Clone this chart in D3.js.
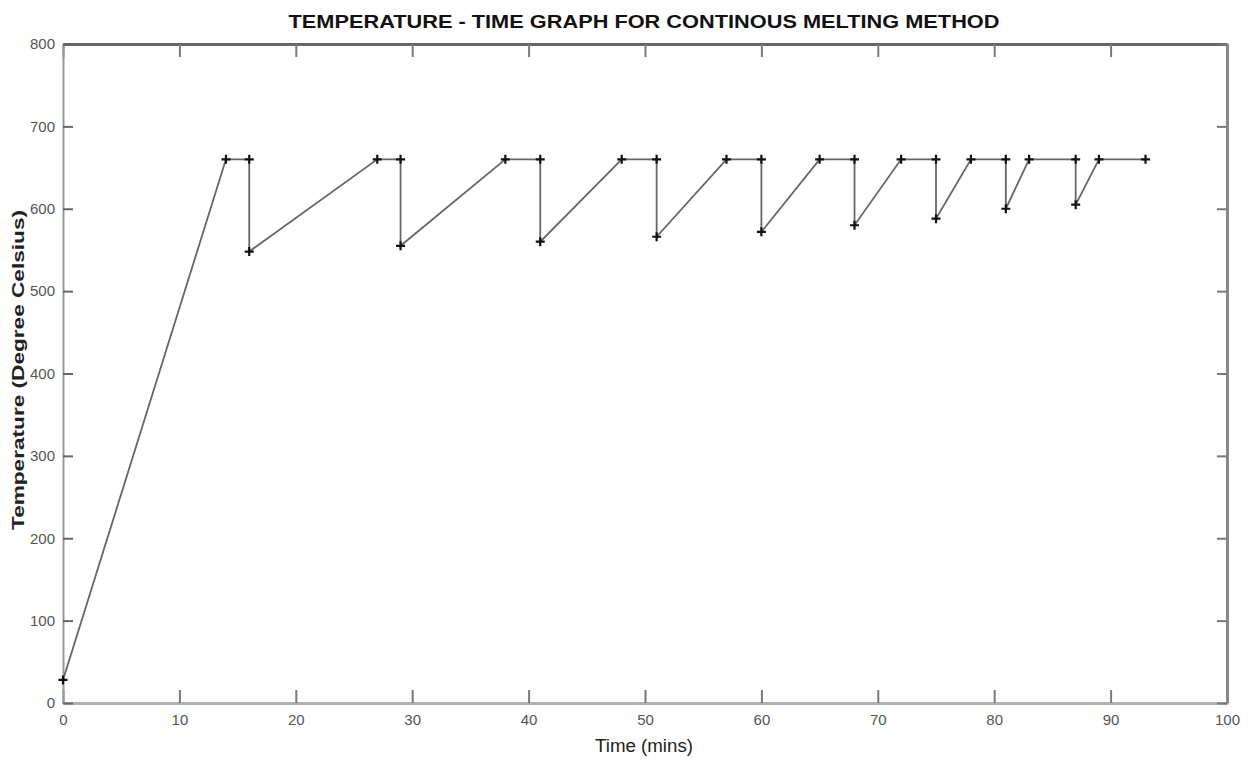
<!DOCTYPE html>
<html>
<head>
<meta charset="utf-8">
<script src="https://cdn.jsdelivr.net/npm/d3@7"></script>
<style>
  body { margin: 0; background: #fff; }
  svg text { font-family: "Liberation Sans Narrow", "Arial Narrow", "Liberation Sans", sans-serif; }
</style>
</head>
<body>
<div id="chart"></div>
<script>
// time (mins) and temperature readings of the melt
const times = [0, 14, 16, 16, 27, 29, 29, 38, 41, 41, 48, 51, 51, 57, 60, 60, 65, 68, 68, 72, 75, 75, 78, 81, 81, 83, 87, 87, 89, 93];
const temps = [28, 660, 660, 548, 660, 660, 555, 660, 660, 560, 660, 660, 566, 660, 660, 572, 660, 660, 580, 660, 660, 588, 660, 660, 600, 660, 660, 605, 660, 660];
const xTicks = [0, 10, 20, 30, 40, 50, 60, 70, 80, 90, 100];
const yTicks = [0, 100, 200, 300, 400, 500, 600, 700, 800];

const width = 1249, height = 760;
const margin = { top: 44, right: 22, bottom: 57, left: 63 };

const svg = d3.select('#chart').append('svg')
  .attr('width', width)
  .attr('height', height);

const x = d3.scaleLinear().domain([0, 100]).range([margin.left, width - margin.right]);
const y = d3.scaleLinear().domain([0, 800]).range([height - margin.bottom, margin.top]);

const axisColor = '#7a7a7a';

// bottom axis, ticks pointing inwards
svg.append('g')
  .attr('transform', `translate(0,${y(0)})`)
  .call(d3.axisBottom(x).tickValues(xTicks).tickSize(-13).tickPadding(20).tickSizeOuter(0))
  .call(g => g.select('.domain').attr('stroke', '#b0b0b0').attr('stroke-width', 3))
  .call(g => g.selectAll('.tick line').attr('stroke', axisColor).attr('stroke-width', 2))
  .call(g => g.selectAll('text').attr('font-size', 15).attr('fill', '#555').attr('dy', '0.1em'));

// top frame line + ticks
svg.append('g')
  .attr('transform', `translate(0,${y(800)})`)
  .call(d3.axisTop(x).tickValues(xTicks).tickSize(-13).tickFormat('').tickSizeOuter(0))
  .call(g => g.select('.domain').attr('stroke', '#666').attr('stroke-width', 3))
  .call(g => g.selectAll('.tick line').attr('stroke', axisColor).attr('stroke-width', 2));

// left axis
svg.append('g')
  .attr('transform', `translate(${x(0)},0)`)
  .call(d3.axisLeft(y).tickValues(yTicks).tickSize(-10).tickPadding(8).tickSizeOuter(0))
  .call(g => g.select('.domain').attr('stroke', '#999').attr('stroke-width', 2))
  .call(g => g.selectAll('.tick line').attr('stroke', '#666').attr('stroke-width', 2))
  .call(g => g.selectAll('text').attr('font-size', 15).attr('fill', '#555'));

// right frame line + ticks
svg.append('g')
  .attr('transform', `translate(${x(100)},0)`)
  .call(d3.axisRight(y).tickValues(yTicks).tickSize(-10).tickFormat('').tickSizeOuter(0))
  .call(g => g.select('.domain').attr('stroke', '#888').attr('stroke-width', 3))
  .call(g => g.selectAll('.tick line').attr('stroke', '#777').attr('stroke-width', 2));

const pts = times.map((t, i) => [t, temps[i]]);

// connecting line
svg.append('path')
  .datum(pts)
  .attr('fill', 'none')
  .attr('stroke', '#666')
  .attr('stroke-width', 1.8)
  .attr('d', d3.line().x(d => x(d[0])).y(d => y(d[1])));

// plus markers
svg.append('g')
  .selectAll('path')
  .data(pts)
  .join('path')
  .attr('transform', d => `translate(${x(d[0])},${y(d[1])})`)
  .attr('d', 'M-4.5,0H4.5M0,-4.5V4.5')
  .attr('stroke', '#111')
  .attr('stroke-width', 2.2);

// title and axis labels
svg.append('text')
  .attr('x', 644).attr('y', 28)
  .attr('text-anchor', 'middle')
  .attr('font-size', 19)
  .attr('font-weight', 'bold')
  .attr('fill', '#111')
  .attr('textLength', 711)
  .attr('lengthAdjust', 'spacingAndGlyphs')
  .text('TEMPERATURE -  TIME GRAPH FOR CONTINOUS MELTING METHOD');

svg.append('text')
  .attr('x', 644).attr('y', 752)
  .attr('text-anchor', 'middle')
  .attr('font-size', 18)
  .attr('fill', '#222')
  .attr('textLength', 98)
  .attr('lengthAdjust', 'spacingAndGlyphs')
  .text('Time (mins)');

svg.append('text')
  .attr('transform', `translate(24,370) rotate(-90)`)
  .attr('text-anchor', 'middle')
  .attr('font-size', 17)
  .attr('font-weight', 'bold')
  .attr('fill', '#222')
  .attr('textLength', 320)
  .attr('lengthAdjust', 'spacingAndGlyphs')
  .text('Temperature (Degree Celsius)');
</script>
</body>
</html>
